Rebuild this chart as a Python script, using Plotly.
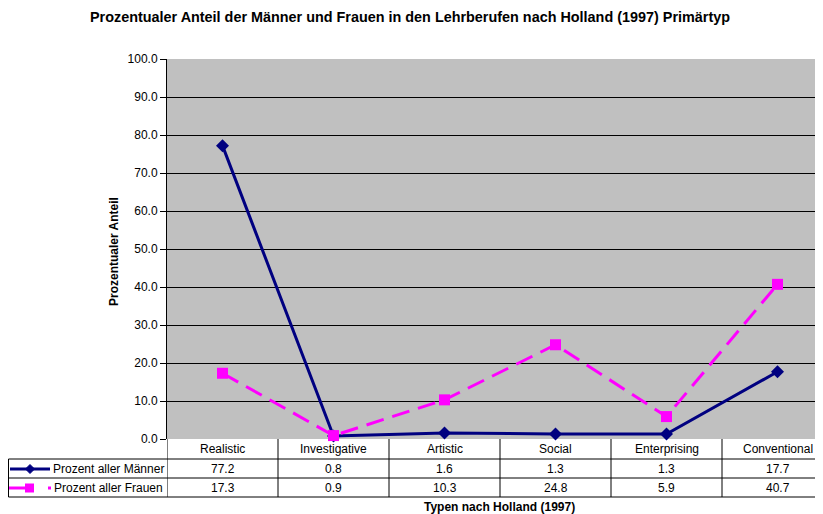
import plotly.graph_objects as go

categories = ["Realistic", "Investigative", "Artistic", "Social", "Enterprising", "Conventional"]
maenner = [77.2, 0.8, 1.6, 1.3, 1.3, 17.7]
frauen = [17.3, 0.9, 10.3, 24.8, 5.9, 40.7]
series_names = ["Prozent aller Männer", "Prozent aller Frauen"]
y_ticks = [0, 10, 20, 30, 40, 50, 60, 70, 80, 90, 100]

# page body has an 8px margin; reference coords are window coords
OFF = 8
WIN_W, WIN_H = 823, 514
W, H = WIN_W - OFF, WIN_H - OFF
L, T, B = 167, 59, 439          # in window coords
PW, PH = WIN_W - L, B - T
FONT = "Arial, Liberation Sans, Helvetica, sans-serif"
FS = 12

def px(X):
    return (X - L) / PW

def py(Y):
    return (B - Y) / PH

xs = list(range(len(categories)))
fig = go.Figure()
fig.add_trace(go.Scatter(x=xs, y=maenner, mode="lines+markers", name=series_names[0],
                         line=dict(color="#000080", width=3),
                         marker=dict(symbol="diamond", size=10, color="#000080"),
                         cliponaxis=False))
fig.add_trace(go.Scatter(x=xs, y=frauen, mode="lines+markers", name=series_names[1],
                         line=dict(color="#FF00FF", width=3, dash="18px,9px"),
                         marker=dict(symbol="square", size=11, color="#FF00FF"),
                         cliponaxis=False))

shapes = []
ann = []
lw = dict(color="black", width=1)
for Y in [459, 478, 497]:
    shapes.append(dict(type="line", xref="paper", yref="paper", x0=px(8.5), x1=px(WIN_W + 20), y0=py(Y), y1=py(Y), line=lw))
shapes.append(dict(type="line", xref="paper", yref="paper", x0=px(8.5), x1=px(8.5), y0=py(459), y1=py(497), line=lw))
for i in range(len(categories) + 1):
    shapes.append(dict(type="line", xref="x", yref="paper", x0=i - 0.5, x1=i - 0.5, y0=py(439), y1=py(497), line=lw))

rows = [(449, categories), (469, [f"{v:.1f}" for v in maenner]), (488, [f"{v:.1f}" for v in frauen])]
for Yc, vals in rows:
    for i, v in enumerate(vals):
        ann.append(dict(x=i, y=py(Yc), xref="x", yref="paper", text=v, showarrow=False,
                        font=dict(size=FS, color="black", family=FONT), xanchor="center", yanchor="middle"))

# legend keys in table
shapes.append(dict(type="line", xref="paper", yref="paper", x0=px(10), x1=px(50), y0=py(469), y1=py(469),
                   line=dict(color="#000080", width=3)))
dx, dy = 4.5 / PW, 4.5 / PH
cx, cy = px(30), py(469)
shapes.append(dict(type="path", xref="paper", yref="paper",
                   path=f"M {cx-dx} {cy} L {cx} {cy+dy} L {cx+dx} {cy} L {cx} {cy-dy} Z",
                   fillcolor="#000080", line=dict(color="#000080", width=1)))
shapes.append(dict(type="line", xref="paper", yref="paper", x0=px(9), x1=px(28), y0=py(488), y1=py(488),
                   line=dict(color="#FF00FF", width=3)))
shapes.append(dict(type="rect", xref="paper", yref="paper", x0=px(25), x1=px(34), y0=py(492.5), y1=py(483.5),
                   fillcolor="#FF00FF", line=dict(color="#FF00FF", width=0)))
shapes.append(dict(type="line", xref="paper", yref="paper", x0=px(48), x1=px(51), y0=py(488), y1=py(488),
                   line=dict(color="#FF00FF", width=3)))
ann.append(dict(x=px(51), y=py(469), xref="paper", yref="paper", text=series_names[0], showarrow=False,
                font=dict(size=FS, color="black", family=FONT), xanchor="left", yanchor="middle"))
ann.append(dict(x=px(52), y=py(488), xref="paper", yref="paper", text=series_names[1], showarrow=False,
                font=dict(size=FS, color="black", family=FONT), xanchor="left", yanchor="middle"))

ann.append(dict(x=px(500), y=py(507), xref="paper", yref="paper", text="<b>Typen nach Holland (1997)</b>",
                showarrow=False, font=dict(size=FS, color="black", family=FONT), xanchor="center", yanchor="middle"))
ann.append(dict(x=px(114), y=py(252), xref="paper", yref="paper", text="<b>Prozentualer Anteil</b>", textangle=-90,
                showarrow=False, font=dict(size=FS, color="black", family=FONT), xanchor="center", yanchor="middle"))
ann.append(dict(x=px(410), y=py(17), xref="paper", yref="paper",
                text="<b>Prozentualer Anteil der Männer und Frauen in den Lehrberufen nach Holland (1997) Primärtyp</b>",
                showarrow=False, font=dict(size=14.4, color="black", family=FONT), xanchor="center", yanchor="middle"))

fig.update_layout(
    width=W, height=H,
    margin=dict(l=L - OFF, r=0, t=T - OFF, b=WIN_H - B, pad=0),
    paper_bgcolor="white", plot_bgcolor="#C0C0C0",
    showlegend=False,
    font=dict(family=FONT, size=FS, color="black"),
    shapes=shapes, annotations=ann,
    xaxis=dict(range=[-0.5, 5.5 - 10 / 111], showticklabels=False, showgrid=False, zeroline=False,
               showline=False, fixedrange=True),
    yaxis=dict(range=[0, 100], tickvals=y_ticks, ticktext=[f"{v:.1f}" for v in y_ticks],
               showgrid=True, gridcolor="black", gridwidth=1, zeroline=False,
               showline=True, linecolor="black", linewidth=1, ticks="outside", ticklen=6,
               tickcolor="black", tickfont=dict(size=FS, family=FONT), fixedrange=True),
)
fig.write_html("out.html")
